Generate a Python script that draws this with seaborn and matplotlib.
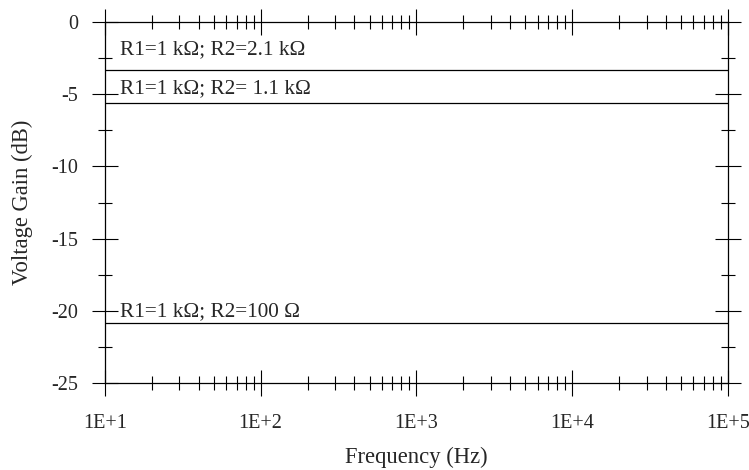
import seaborn as sns
import matplotlib.pyplot as plt
import pandas as pd
import numpy as np
from matplotlib.ticker import FixedLocator, LogLocator, FuncFormatter, MultipleLocator

sns.set_style("white")
plt.rcParams["font.family"] = ["Liberation Serif", "DejaVu Serif"]
plt.rcParams["font.size"] = 14.5

# データ
freq = [10, 100, 1000, 10000, 100000]
gain_r2_2k1 = [-3.35, -3.35, -3.35, -3.35, -3.35]
gain_r2_1k1 = [-5.6, -5.6, -5.6, -5.6, -5.6]
gain_r2_100 = [-20.82, -20.82, -20.82, -20.82, -20.82]
labels = ["R1=1 kΩ; R2=2.1 kΩ", "R1=1 kΩ; R2= 1.1 kΩ", "R1=1 kΩ; R2=100 Ω"]
label_y = [-2.2, -4.95, -20.35]

df = pd.DataFrame({
    "freq": freq * 3,
    "gain": gain_r2_2k1 + gain_r2_1k1 + gain_r2_100,
    "curve": [labels[0]] * 5 + [labels[1]] * 5 + [labels[2]] * 5,
})

fig, ax = plt.subplots(figsize=(7.49, 4.70), dpi=100)
fig.subplots_adjust(left=0.14, right=0.972, top=0.953, bottom=0.185)

sns.lineplot(data=df, x="freq", y="gain", hue="curve",
             palette=["black"] * 3, linewidth=0.9, legend=False, ax=ax)

ax.set_xscale("log")
ax.set_xlim(10, 1e5)
ax.set_ylim(-25, 0)

# ラベル
for txt, yy in zip(labels, label_y):
    ax.text(12.5, yy, txt, va="baseline", ha="left", fontsize=15.3)

# 目盛り
ax.xaxis.set_major_locator(FixedLocator([10, 100, 1000, 10000, 100000]))
ax.xaxis.set_minor_locator(LogLocator(base=10, subs=np.arange(2, 10)))
ax.xaxis.set_major_formatter(FuncFormatter(lambda v, p: "1E+%d" % round(np.log10(v))))
ax.xaxis.set_minor_formatter(FuncFormatter(lambda v, p: ""))
ax.yaxis.set_major_locator(MultipleLocator(5))
ax.yaxis.set_minor_locator(MultipleLocator(2.5))
ax.yaxis.set_major_formatter(FuncFormatter(lambda v, p: "%d" % v))

ax.tick_params(which="major", direction="inout", length=18.7, width=0.8,
               top=True, right=True, bottom=True, left=True, color="black")
ax.tick_params(which="minor", direction="inout", length=9.6, width=0.8,
               top=True, right=True, bottom=True, left=True, color="black")
ax.tick_params(axis="x", which="major", pad=13, labelsize=14.5)
ax.tick_params(axis="y", which="major", pad=10, labelsize=14.5)

for sp in ax.spines.values():
    sp.set_color("black")
    sp.set_linewidth(0.9)

ax.set_xlabel("Frequency (Hz)", fontsize=16.3)
ax.set_ylabel("Voltage Gain (dB)", fontsize=16.3)
ax.xaxis.set_label_coords(0.5, -0.178)
ax.yaxis.set_label_coords(-0.116, 0.5)

plt.savefig("out.png", dpi=100)
